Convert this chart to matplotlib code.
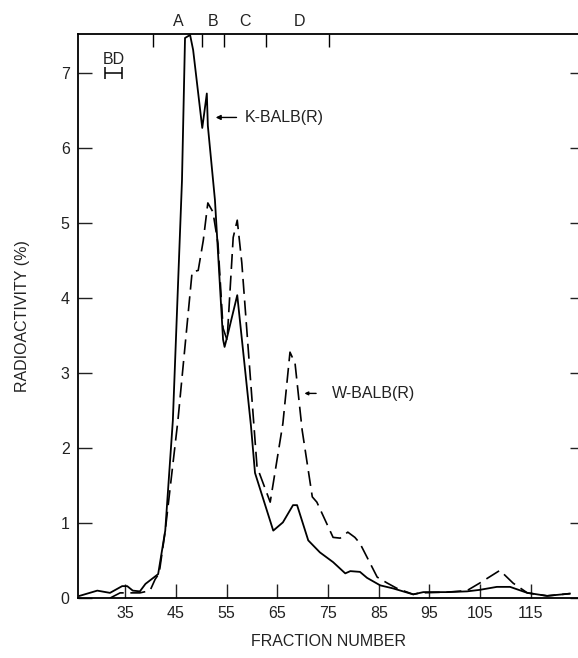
import matplotlib
import matplotlib.pyplot as plt

matplotlib.use("Agg")

plt.rcParams["font.family"] = ["Liberation Sans", "DejaVu Sans"]

# K-BALB(R), solid line
frac_k = [26.0, 29.5, 32.0, 34.4, 35.4, 36.5, 37.9, 39.0, 41.5, 42.9, 44.4, 46.2,
          46.8, 47.8, 48.4, 50.2, 51.1, 51.3, 52.7, 54.3, 54.6, 55.1, 57.1, 59.8,
          60.6, 64.2, 66.1, 68.1, 68.9, 71.1, 73.4, 76.0, 78.4, 79.4, 81.3, 82.7,
          85.3, 87.8, 91.8, 93.8, 98.5, 102.4, 104.9, 108.3, 110.9, 114.3, 118.2, 122.7]
k_balb = [0.03, 0.10, 0.07, 0.16, 0.16, 0.10, 0.09, 0.19, 0.32, 0.90, 2.37, 5.57,
          7.47, 7.51, 7.31, 6.27, 6.73, 6.30, 5.31, 3.45, 3.35, 3.48, 4.04, 2.30,
          1.67, 0.90, 1.01, 1.24, 1.24, 0.77, 0.61, 0.48, 0.33, 0.36, 0.35, 0.27,
          0.17, 0.13, 0.05, 0.08, 0.08, 0.09, 0.11, 0.15, 0.15, 0.07, 0.03, 0.06]

# W-BALB(R), dashed line
frac_w = [32.0, 34.0, 37.9, 39.9, 40.9, 41.7, 42.9, 45.4, 48.2, 49.4, 50.4, 51.3,
          52.3, 53.3, 54.3, 55.1, 56.3, 57.1, 58.0, 60.6, 61.0, 63.6, 66.1, 67.5,
          68.5, 69.9, 71.9, 72.8, 76.0, 77.4, 78.9, 80.3, 81.3, 84.7, 86.7, 88.6,
          91.8, 93.2, 98.5, 102.4, 104.9, 108.9, 111.5, 114.3, 118.2, 122.7]
w_balb = [0.00, 0.07, 0.07, 0.10, 0.25, 0.33, 0.90, 2.37, 4.35, 4.37, 4.77, 5.27,
          5.15, 4.73, 3.60, 3.44, 4.81, 5.04, 4.47, 2.11, 1.75, 1.28, 2.33, 3.28,
          3.13, 2.24, 1.35, 1.28, 0.81, 0.80, 0.88, 0.81, 0.73, 0.28, 0.20, 0.13,
          0.05, 0.07, 0.08, 0.10, 0.20, 0.37, 0.20, 0.07, 0.03, 0.06]

x_ticks = [35, 45, 55, 65, 75, 85, 95, 105, 115]
y_ticks = [0, 1, 2, 3, 4, 5, 6, 7]
top_ticks = [40.5, 50.2, 54.5, 62.8, 75.2]
peak_labels = ["A", "B", "C", "D"]
peak_pos = [45.4, 52.3, 58.6, 69.3]

fig = plt.figure(figsize=(5.78, 6.58), dpi=100)
ax = fig.add_axes([0.135, 0.091, 0.865, 0.857])

ax.plot(frac_k, k_balb, color="black", lw=1.3)
ax.plot(frac_w, w_balb, color="black", lw=1.2, linestyle=(0, (9, 4)))

ax.set_xlim(25.7, 124.3)
ax.set_ylim(0, 7.52)

ax.set_xticks(x_ticks)
ax.set_yticks(y_ticks)
ax.tick_params(axis="both", direction="in", length=10, width=1, labelsize=11.5,
               colors="#222222", pad=6)
ax.tick_params(axis="y", right=True)
for t in ax.yaxis.get_major_ticks():
    t.tick2line.set_markersize(6)

top = ax.secondary_xaxis("top")
top.set_xticks(top_ticks)
top.set_xticklabels([])
top.tick_params(direction="in", length=9, width=1)
top.spines["top"].set_visible(False)

ax.spines["right"].set_visible(False)
for s in ["left", "bottom", "top"]:
    ax.spines[s].set_linewidth(1.3)

ax.set_xlabel("FRACTION NUMBER", fontsize=11.5, labelpad=9, color="#222222")
ax.set_ylabel("RADIOACTIVITY (%)", fontsize=11.5, labelpad=22, color="#222222")

for lab, xp in zip(peak_labels, peak_pos):
    ax.text(xp, 1.023, lab, transform=ax.get_xaxis_transform(), ha="center",
            va="center", fontsize=11.5, color="#222222")

# bandwidth bar
ax.errorbar(32.7, 7.0, xerr=1.7, color="black", lw=1.1, capsize=4, capthick=1.1)
ax.text(32.7, 7.08, "BD", ha="center", va="bottom", fontsize=11.5, color="#222222")

ax.annotate("", xy=(52.3, 6.41), xytext=(57.5, 6.41),
            arrowprops=dict(arrowstyle="-|>", lw=1, color="black", mutation_scale=7))
ax.text(58.6, 6.41, "K-BALB(R)", ha="left", va="center", fontsize=11.5, color="#222222")

ax.annotate("", xy=(69.8, 2.73), xytext=(73.2, 2.73),
            arrowprops=dict(arrowstyle="-|>", lw=1, color="black", mutation_scale=5))
ax.text(75.8, 2.73, "W-BALB(R)", ha="left", va="center", fontsize=11.5, color="#222222")

fig.savefig("out.png", dpi=100)
plt.close(fig)
